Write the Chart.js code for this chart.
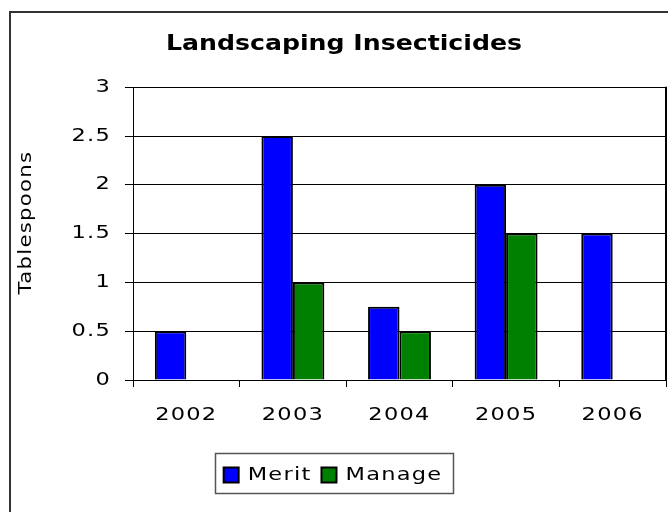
<!DOCTYPE html>
<html><head><meta charset="utf-8">
<script src="https://cdn.jsdelivr.net/npm/chart.js@4"></script>
<style>html,body{margin:0;padding:0;background:#fff}#wrap{width:668px;height:512px}</style>
</head><body><div id="wrap"><canvas id="c" width="668" height="512"></canvas></div>
<script>
const categories = ['2002', '2003', '2004', '2005', '2006'];
const meritValues = [0.5, 2.5, 0.75, 2, 1.5];
const manageValues = [null, 1, 0.5, 1.5, null];
const yTicks = [0, 0.5, 1, 1.5, 2, 2.5, 3];
const seriesNames = ['Merit', 'Manage'];
const chartTitle = 'Landscaping Insecticides';
const yAxisTitle = 'Tablespoons';

const FONT = '"DejaVu Sans", Verdana, sans-serif';

// wide, Verdana-like text: stretch glyphs horizontally (text stays real text)
function patchCtx(ctx) {
  if (ctx.__wide) return; ctx.__wide = true;
  const hasLS = 'letterSpacing' in ctx;
  const of = ctx.fillText.bind(ctx), om = ctx.measureText.bind(ctx);
  const st = () => /bold/.test(ctx.font) ? { sx: 1.2, ls: '0px' } : { sx: 1.25, ls: '1px' };
  ctx.fillText = function (t, x, y) {
    const s = st();
    ctx.save();
    if (hasLS) ctx.letterSpacing = s.ls;
    ctx.translate(x, y); ctx.scale(s.sx, 1);
    of(t, 0, 0);
    ctx.restore();
  };
  ctx.measureText = function (t) {
    const s = st();
    let prev;
    if (hasLS) { prev = ctx.letterSpacing; ctx.letterSpacing = s.ls; }
    const m = om(t);
    if (hasLS) ctx.letterSpacing = prev;
    return {
      width: m.width * s.sx,
      actualBoundingBoxLeft: m.actualBoundingBoxLeft * s.sx,
      actualBoundingBoxRight: m.actualBoundingBoxRight * s.sx,
      actualBoundingBoxAscent: m.actualBoundingBoxAscent,
      actualBoundingBoxDescent: m.actualBoundingBoxDescent,
      fontBoundingBoxAscent: m.fontBoundingBoxAscent,
      fontBoundingBoxDescent: m.fontBoundingBoxDescent
    };
  };
}

const decor = {
  id: 'decor',
  afterLayout(chart) { if (chart.titleBlock) chart.titleBlock.left += 22; },
  afterDraw(chart) {
    const ctx = chart.ctx, a = chart.chartArea;
    ctx.save();
    ctx.strokeStyle = '#000'; ctx.lineWidth = 2;
    ctx.beginPath(); ctx.moveTo(Math.round(a.right), a.top - 0.5); ctx.lineTo(Math.round(a.right), a.bottom + 0.5); ctx.stroke();
    ctx.strokeStyle = '#333'; ctx.lineWidth = 2;
    ctx.strokeRect(10, 12, chart.width + 20, chart.height + 20);
    const hb = chart.legend.legendHitBoxes;
    if (hb && hb.length) {
      const f = hb[0], l = hb[hb.length - 1];
      const x1 = Math.round(f.left - 9) + 0.5, x2 = Math.round(l.left + l.width + 11) + 0.5;
      const y1 = Math.round(f.top - 13) + 0.5, y2 = Math.round(f.top + f.height + 9) + 0.5;
      ctx.strokeStyle = '#555'; ctx.lineWidth = 1.5;
      ctx.strokeRect(x1, y1, x2 - x1, y2 - y1);
    }
    ctx.translate(27, (a.top + a.bottom) / 2 - 11);
    ctx.rotate(-Math.PI / 2);
    ctx.font = '17px ' + FONT; ctx.textAlign = 'center'; ctx.textBaseline = 'middle'; ctx.fillStyle = '#000';
    ctx.fillText(yAxisTitle, 0, 0);
    ctx.restore();
  }
};

Chart.defaults.color = '#000';
Chart.defaults.font.family = FONT;

const canvas = document.getElementById('c');
patchCtx(canvas.getContext('2d'));

new Chart(canvas, {
  type: 'bar',
  data: {
    labels: categories,
    datasets: [
      { label: seriesNames[0], data: meritValues, backgroundColor: '#0000FF', borderColor: '#000', borderWidth: 2 },
      { label: seriesNames[1], data: manageValues, backgroundColor: '#008000', borderColor: '#000', borderWidth: 2 }
    ]
  },
  options: {
    responsive: false,
    animation: false,
    devicePixelRatio: 1,
    categoryPercentage: 0.59,
    barPercentage: 1,
    layout: { padding: { top: 0, left: 0, right: 2, bottom: 18 } },
    plugins: {
      title: { display: true, text: chartTitle, font: { size: 21, weight: 'bold' }, padding: { top: 32, bottom: 30 }, color: '#000' },
      legend: {
        position: 'bottom',
        labels: { font: { size: 18 }, boxWidth: 15, boxHeight: 15, padding: 10, color: '#000' }
      },
      tooltip: { enabled: false }
    },
    scales: {
      x: {
        grid: { drawOnChartArea: false, tickLength: 7, color: '#000', offset: true },
        border: { color: '#000', width: 1 },
        ticks: { font: { size: 18 }, padding: 18, color: '#000' },
        afterFit(s) { s.height = 76; }
      },
      y: {
        min: 0, max: 3,
        afterBuildTicks(s) { s.ticks = yTicks.map(v => ({ value: v })); },
        grid: { color: '#000', tickLength: 8, lineWidth: 1 },
        border: { color: '#000', width: 1 },
        ticks: { font: { size: 18 }, padding: 14, color: '#000', callback: v => String(v) },
        afterFit(s) { s.width = 133; }
      }
    }
  },
  plugins: [decor]
});
</script>
</body></html>
